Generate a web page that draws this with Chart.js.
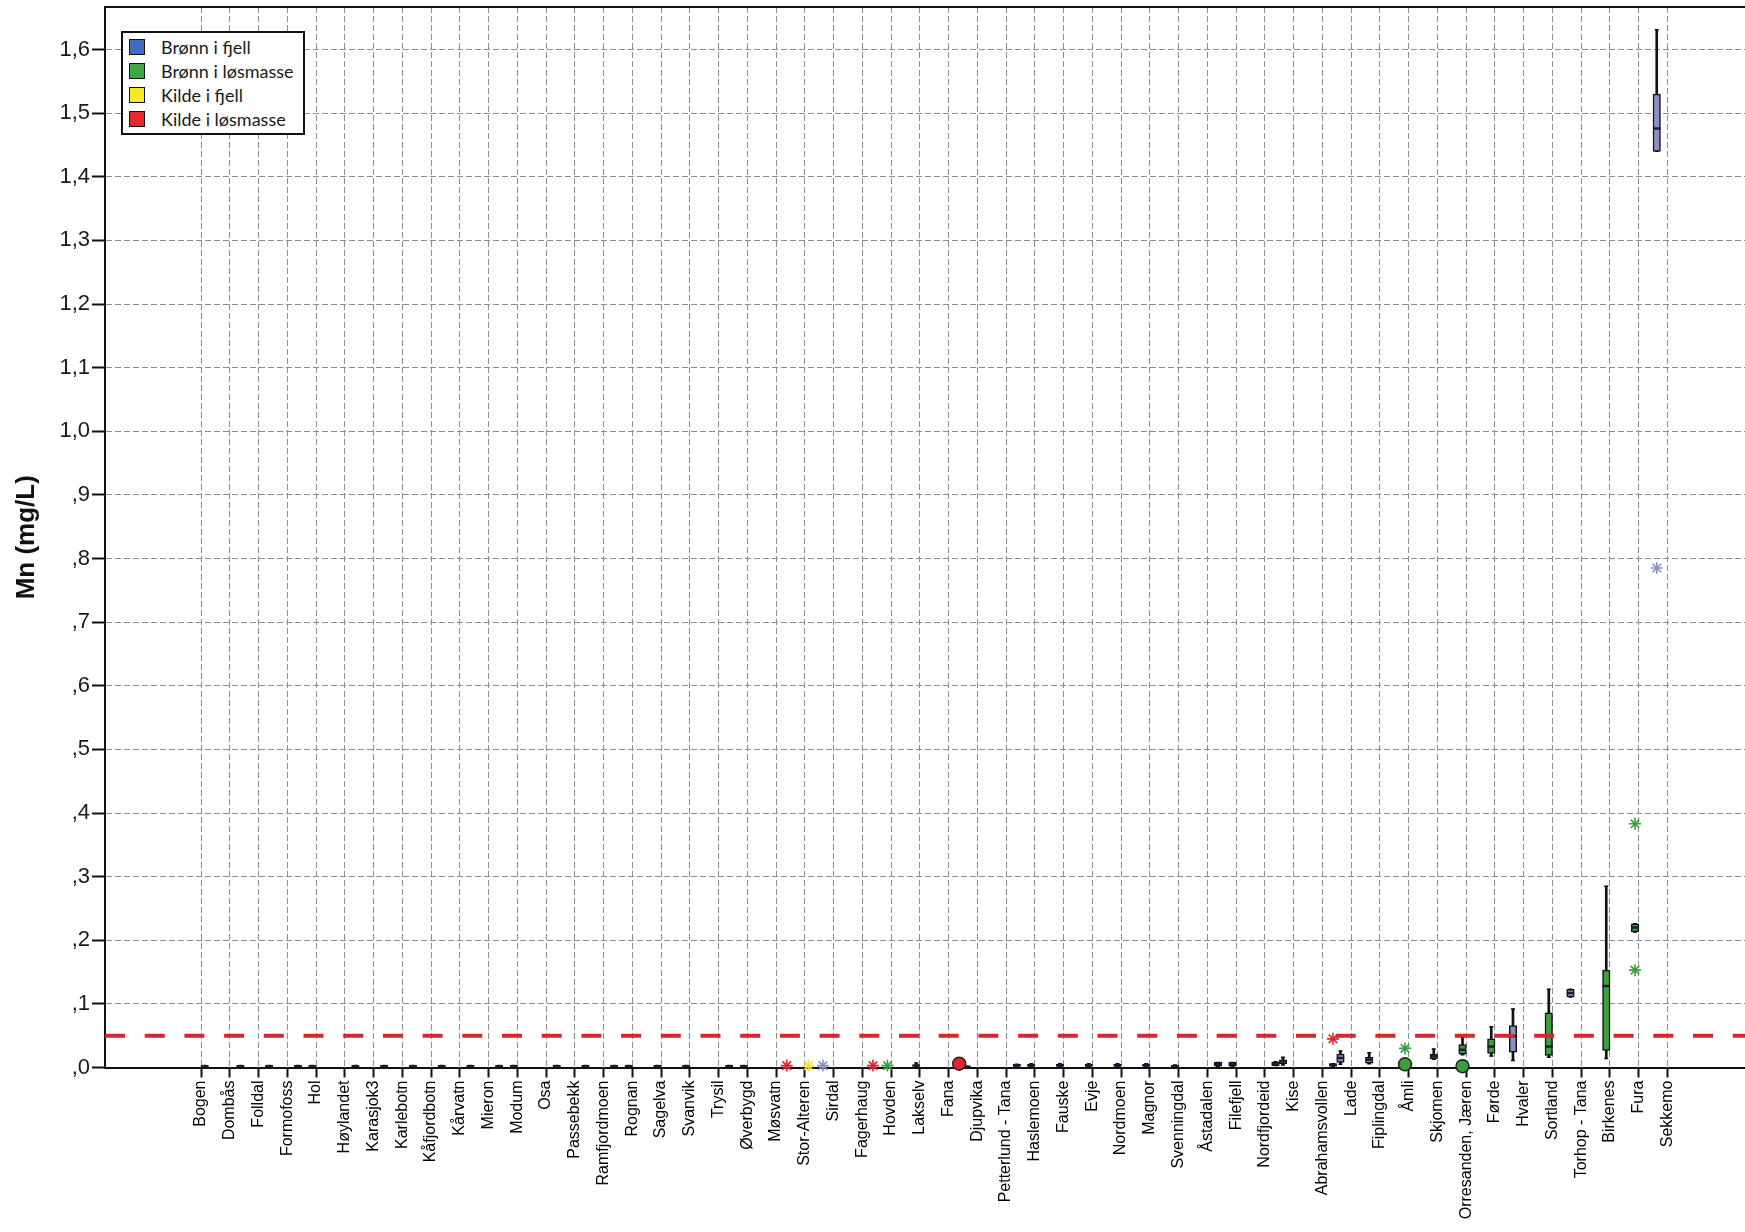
<!DOCTYPE html>
<html lang="no">
<head>
<meta charset="utf-8">
<title>Mn (mg/L)</title>
<script src="https://cdn.jsdelivr.net/npm/chart.js@4.4.1/dist/chart.umd.min.js"></script>
<style>
  html, body { margin: 0; padding: 0; background: #fff; }
  #wrap { position: relative; width: 1745px; height: 1232px; }
  #legend {
    position: absolute; left: 121px; top: 31px; width: 180px; height: 100px;
    border: 2px solid #111; background: #fff;
    font-family: Lato, "Open Sans", sans-serif; font-size: 18px; color: #1a1a1a;
  }
  .item { position: absolute; left: 6px; height: 17px; white-space: nowrap; }
  .swatch { position: absolute; left: 0; top: 0; width: 14px; height: 14px; border: 1.5px solid #111; }
  .label { position: absolute; left: 32px; top: -3px; line-height: 22px; }
</style>
</head>
<body>
<div id="wrap">
  <canvas id="mnChart" width="1745" height="1232"></canvas>
  <div id="legend"></div>
</div>
<script>
// sites along the x axis
const sites = ['Bogen', 'Dombås', 'Folldal', 'Formofoss', 'Hol', 'Høylandet', 'Karasjok3', 'Karlebotn',
  'Kåfjordbotn', 'Kårvatn', 'Mieron', 'Modum', 'Osa', 'Passebekk', 'Ramfjordmoen', 'Rognan', 'Sagelva',
  'Svanvik', 'Trysil', 'Øverbygd', 'Møsvatn', 'Stor-Alteren', 'Sirdal', 'Fagerhaug', 'Hovden', 'Lakselv',
  'Fana', 'Djupvika', 'Petterlund - Tana', 'Haslemoen', 'Fauske', 'Evje', 'Nordmoen', 'Magnor',
  'Svenningdal', 'Åstadalen', 'Filefjell', 'Nordfjordeid', 'Kise', 'Abrahamsvollen', 'Lade', 'Fiplingdal',
  'Åmli', 'Skjomen', 'Orresanden, Jæren', 'Førde', 'Hvaler', 'Sortland', 'Torhop - Tana', 'Birkenes',
  'Fura', 'Sekkemo'];

const groups = ['Brønn i fjell', 'Brønn i løsmasse', 'Kilde i fjell', 'Kilde i løsmasse'];

const yTickValues = [0, 0.1, 0.2, 0.3, 0.4, 0.5, 0.6, 0.7, 0.8, 0.9, 1.0, 1.1, 1.2, 1.3, 1.4, 1.5, 1.6];
const yTickLabels = [',0', ',1', ',2', ',3', ',4', ',5', ',6', ',7', ',8', ',9',
  '1,0', '1,1', '1,2', '1,3', '1,4', '1,5', '1,6'];

const limitValue = 0.05; // grenseverdi Mn

// boxes: site, group (index in groups), whisker low, Q1, median, Q3, whisker high
const boxSite = ['Bogen', 'Dombås', 'Folldal', 'Formofoss', 'Hol', 'Høylandet', 'Karasjok3', 'Karlebotn',
  'Kåfjordbotn', 'Kårvatn', 'Mieron', 'Modum', 'Osa', 'Passebekk', 'Ramfjordmoen', 'Rognan', 'Sagelva',
  'Svanvik', 'Trysil', 'Øverbygd', 'Lakselv', 'Djupvika', 'Petterlund - Tana', 'Haslemoen', 'Fauske',
  'Evje', 'Nordmoen', 'Magnor', 'Svenningdal', 'Åstadalen', 'Filefjell', 'Nordfjordeid', 'Kise',
  'Abrahamsvollen', 'Lade', 'Fiplingdal', 'Skjomen', 'Orresanden, Jæren', 'Førde', 'Hvaler', 'Sortland',
  'Torhop - Tana', 'Birkenes', 'Fura', 'Sekkemo'];
const boxGroup = [2, 3, 3, 3, 1, 3, 3, 3, 3, 3, 3, 1, 3, 3, 3, 1, 1, 1, 3, 1, 1, 0, 3, 1, 1,
  1, 1, 1, 1, 3, 1, 3, 0, 3, 0, 0, 1, 1, 1, 0, 1, 0, 1, 1, 0];
const boxLow = [0.001, 0.001, 0.001, 0.001, 0.001, 0.001, 0.001, 0.001, 0.001, 0.001, 0.001, 0.001, 0.001,
  0.001, 0.001, 0.001, 0.001, 0.001, 0.001, 0.001, 0.001, 0.001, 0.002, 0.002, 0.002, 0.002, 0.002, 0.002,
  0.001, 0.002, 0.002, 0.003, 0.004, 0.002, 0.005, 0.006, 0.013, 0.020, 0.018, 0.011, 0.016, 0.111, 0.014,
  0.213, 1.440];
const boxQ1 = [0.001, 0.001, 0.001, 0.001, 0.001, 0.001, 0.001, 0.001, 0.001, 0.001, 0.001, 0.001, 0.001,
  0.001, 0.001, 0.001, 0.001, 0.001, 0.001, 0.001, 0.002, 0.001, 0.002, 0.002, 0.002, 0.002, 0.002, 0.002,
  0.001, 0.002, 0.002, 0.003, 0.006, 0.002, 0.008, 0.007, 0.014, 0.021, 0.022, 0.024, 0.019, 0.111, 0.027,
  0.213, 1.440];
const boxMedian = [0.002, 0.002, 0.002, 0.002, 0.002, 0.002, 0.002, 0.002, 0.002, 0.002, 0.002, 0.002, 0.002,
  0.002, 0.002, 0.002, 0.002, 0.002, 0.002, 0.002, 0.003, 0.001, 0.003, 0.003, 0.003, 0.003, 0.003, 0.003,
  0.002, 0.005, 0.005, 0.006, 0.010, 0.004, 0.015, 0.012, 0.018, 0.028, 0.033, 0.049, 0.033, 0.117, 0.128,
  0.220, 1.476];
const boxQ3 = [0.003, 0.003, 0.003, 0.003, 0.003, 0.003, 0.003, 0.003, 0.003, 0.003, 0.003, 0.003, 0.003,
  0.003, 0.003, 0.003, 0.003, 0.003, 0.003, 0.003, 0.004, 0.002, 0.005, 0.005, 0.005, 0.005, 0.005, 0.005,
  0.004, 0.008, 0.008, 0.009, 0.012, 0.006, 0.021, 0.016, 0.021, 0.036, 0.045, 0.066, 0.086, 0.123, 0.153,
  0.226, 1.530];
const boxHigh = [0.003, 0.003, 0.003, 0.003, 0.003, 0.003, 0.003, 0.003, 0.003, 0.003, 0.003, 0.003, 0.003,
  0.003, 0.003, 0.003, 0.003, 0.003, 0.003, 0.003, 0.007, 0.002, 0.005, 0.006, 0.006, 0.006, 0.006, 0.006,
  0.004, 0.008, 0.008, 0.009, 0.016, 0.006, 0.026, 0.023, 0.029, 0.047, 0.064, 0.092, 0.123, 0.123, 0.285,
  0.226, 1.631];

// outliers (o) and extremes (*)
const outlierSite = ['Fana', 'Åmli', 'Orresanden, Jæren'];
const outlierGroup = [3, 1, 1];
const outlierValue = [0.006, 0.005, 0.002];

const extremeSite = ['Møsvatn', 'Stor-Alteren', 'Sirdal', 'Fagerhaug', 'Hovden', 'Abrahamsvollen', 'Åmli',
  'Fura', 'Fura', 'Sekkemo'];
const extremeGroup = [3, 2, 0, 3, 1, 3, 1, 1, 1, 0];
const extremeValue = [0.003, 0.003, 0.003, 0.003, 0.003, 0.045, 0.030, 0.153, 0.383, 0.785];

// ---- layout / style ----
const xMin = -3.34, xMax = 53.7;               // empty room left of Bogen, plot runs off the right edge
const groupSlot = [-0.37, -0.125, 0.125, 0.37]; // SPSS clustered slots inside each site
const markColors = ['#8a8fc8', '#3d9e40', '#efe236', '#e2252d'];
const legendColors = ['#3e6dc0', '#42a545', '#f4ea21', '#e42a2c'];
const ink = '#111111';

Chart.defaults.font.family = "'Liberation Sans', Arial, sans-serif";

const xOf = (site, g) => sites.indexOf(site) + groupSlot[g];

const whiskers = boxSite.map((s, i) => ({ x: xOf(s, boxGroup[i]), y: [boxLow[i], boxHigh[i]] }));
const caps = boxSite.flatMap((s, i) => [
  { x: xOf(s, boxGroup[i]), y: boxLow[i] },
  { x: xOf(s, boxGroup[i]), y: boxHigh[i] }
]);
const boxes = boxSite.map((s, i) => ({ x: xOf(s, boxGroup[i]), y: [boxQ1[i], boxQ3[i]] }));
const medians = boxSite.map((s, i) => ({ x: xOf(s, boxGroup[i]), y: boxMedian[i] }));
const outliers = outlierSite.map((s, i) => ({ x: xOf(s, outlierGroup[i]), y: outlierValue[i] }));
const extremes = extremeSite.map((s, i) => ({ x: xOf(s, extremeGroup[i]), y: extremeValue[i] }));

// top frame line of the plot
const frameTop = {
  id: 'frameTop',
  afterDraw(chart) {
    const { ctx, chartArea } = chart;
    ctx.save();
    ctx.strokeStyle = ink;
    ctx.lineWidth = 2;
    ctx.beginPath();
    ctx.moveTo(chartArea.left, chartArea.top);
    ctx.lineTo(chartArea.right, chartArea.top);
    ctx.stroke();
    ctx.restore();
  }
};

const gridStyle = (tickLength) => ({
  offset: false, color: '#8e8e8e', lineWidth: 1,
  tickColor: ink, tickWidth: 2, tickLength
});
const borderStyle = { color: ink, width: 2, dash: [6, 3] };

new Chart(document.getElementById('mnChart'), {
  type: 'bar',
  data: {
    datasets: [
      { type: 'bar', data: whiskers, backgroundColor: ink, barThickness: 2, grouped: false, order: 6 },
      { type: 'scatter', data: caps, pointStyle: 'line', pointRadius: 2, pointBorderColor: ink,
        pointBorderWidth: 1.5, order: 5 },
      { type: 'bar', data: boxes, backgroundColor: boxGroup.map(g => markColors[g]), borderColor: ink,
        borderWidth: 1.5, borderSkipped: false, barThickness: 7.5, grouped: false, order: 4 },
      { type: 'scatter', data: medians, pointStyle: 'line', pointRadius: 3.7, pointBorderColor: '#1c1c3a',
        pointBorderWidth: 2.5, order: 3 },
      { type: 'scatter', data: outliers, pointStyle: 'circle', pointRadius: 6.5,
        pointBackgroundColor: outlierGroup.map(g => markColors[g]), pointBorderColor: '#222',
        pointBorderWidth: 1.5, clip: false, order: 2 },
      { type: 'scatter', data: extremes, pointStyle: 'star', pointRadius: 6,
        pointBorderColor: extremeGroup.map(g => markColors[g]), pointBorderWidth: 1.6, clip: false, order: 2 },
      { type: 'line', data: [{ x: xMin, y: limitValue }, { x: xMax, y: limitValue }],
        borderColor: '#d8262e', borderWidth: 4, borderDash: [20, 19.7], pointRadius: 0, order: 1 }
    ]
  },
  options: {
    responsive: false,
    animation: false,
    devicePixelRatio: 1,
    layout: { autoPadding: false, padding: { top: 7, right: 0, bottom: 0, left: 0 } },
    plugins: { legend: { display: false }, tooltip: { enabled: false } },
    scales: {
      x: {
        type: 'linear', min: xMin, max: xMax, offset: false,
        afterBuildTicks: s => { s.ticks = sites.map((_, i) => ({ value: i })); },
        afterFit: s => { s.height = 164.5; s.paddingLeft = 0; s.paddingRight = 0; },
        grid: gridStyle(10),
        border: borderStyle,
        ticks: {
          autoSkip: false, minRotation: 90, maxRotation: 90, padding: 3,
          color: '#000', font: { size: 16 },
          callback: v => sites[v]
        }
      },
      y: {
        type: 'linear', min: 0, max: 1.6668,
        afterBuildTicks: s => { s.ticks = yTickValues.map(v => ({ value: v })); },
        afterFit: s => { s.width = 105; s.paddingTop = 0; s.paddingBottom = 0; },
        grid: gridStyle(13),
        border: borderStyle,
        ticks: { padding: 2, color: '#1a1a1a', font: { size: 22 }, callback: (v, i) => yTickLabels[i] },
        title: {
          display: true, text: 'Mn (mg/L)', color: ink,
          font: { size: 26, weight: 'bold' }, padding: { top: 11, bottom: 0 }
        }
      }
    }
  },
  plugins: [frameTop]
});

// legend box, top left inside the plot
const legend = document.getElementById('legend');
groups.forEach((name, i) => {
  const item = document.createElement('div');
  item.className = 'item';
  item.style.top = (6 + i * 24) + 'px';
  item.innerHTML = `<span class="swatch" style="background:${legendColors[i]}"></span><span class="label">${name}</span>`;
  legend.appendChild(item);
});
</script>
</body>
</html>
